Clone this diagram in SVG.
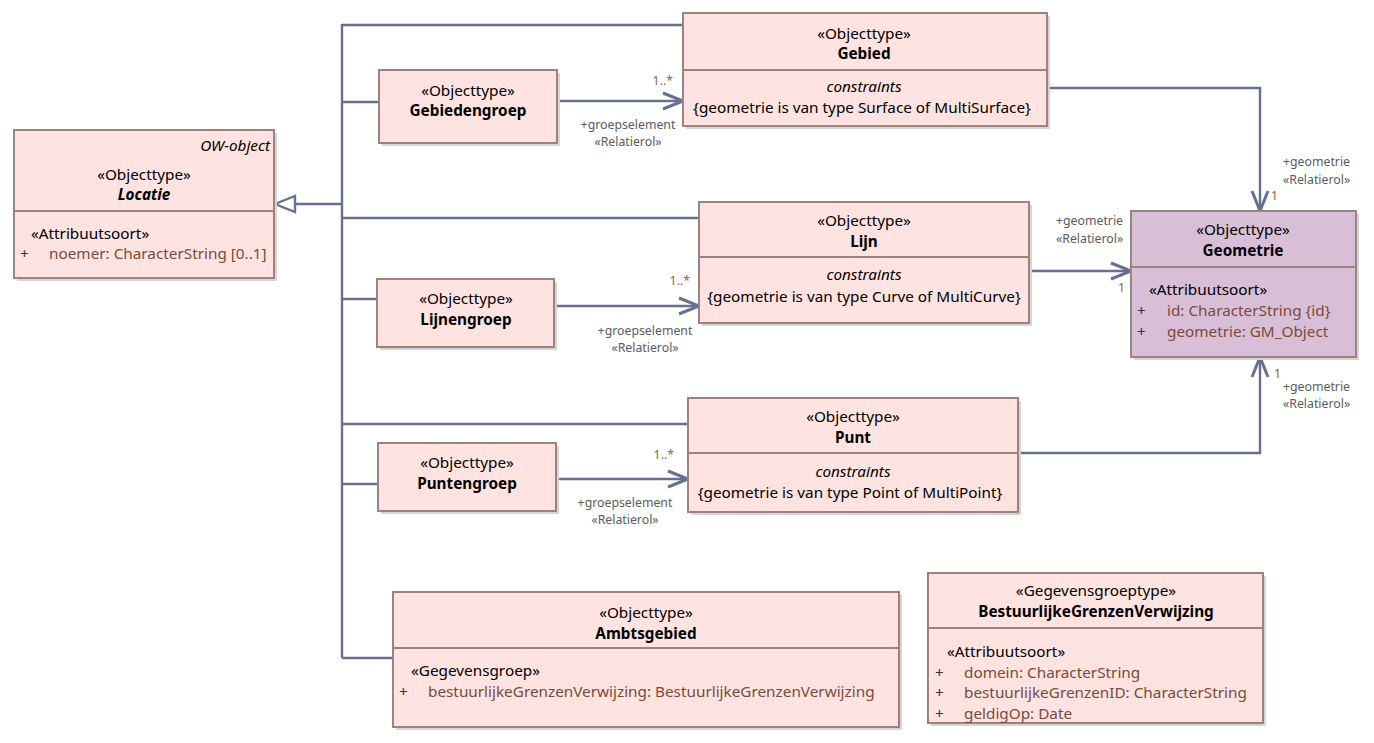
<svg xmlns="http://www.w3.org/2000/svg" width="1374" height="743" viewBox="0 0 1374 743">
<defs>
<style>
text{font-family:"Noto Sans","Open Sans","Liberation Sans",sans-serif;font-size:15.3px;fill:#000}
.c{text-anchor:middle}
.b{font-weight:bold}
.i{font-style:italic}
.r{text-anchor:end}
.a{fill:#7a4a3c}
.p{fill:#333}
.s{font-size:12.3px;fill:#5b5b5b}
.m{font-size:12.3px;fill:#8b6440}
.box{fill:#fee3e0;stroke:#9c8280;stroke-width:2}
.geo{fill:#d8bfd7;stroke:#9c8280;stroke-width:2}
.sh{fill:#d6d6d6}
.dv{stroke:#9c8280;stroke-width:2}
.ln{fill:none;stroke:#687092;stroke-width:2.4}
</style>
<marker id="arr" markerUnits="userSpaceOnUse" markerWidth="24" markerHeight="20" refX="21" refY="10" orient="auto" overflow="visible">
<path d="M1,2 L21,10 L1,18" fill="none" stroke="#687092" stroke-width="3"/>
</marker>
</defs>
<rect width="1374" height="743" fill="#fff"/>

<g id="connectors">
<path class="ln" d="M342,24 V658"/>
<path class="ln" d="M342,25 H683"/>
<path class="ln" d="M342,102 H378"/>
<path class="ln" d="M295,204 H342"/>
<polygon points="275,204 295,196 295,212" fill="#fff" stroke="#687092" stroke-width="2.4"/>
<path class="ln" d="M342,218 H698"/>
<path class="ln" d="M342,299 H377"/>
<path class="ln" d="M342,424 H687"/>
<path class="ln" d="M342,484 H378"/>
<path class="ln" d="M342,658 H393"/>
<path class="ln" d="M557,101 H683" marker-end="url(#arr)"/>
<path class="ln" d="M554,306 H699" marker-end="url(#arr)"/>
<path class="ln" d="M556,479 H688" marker-end="url(#arr)"/>
<path class="ln" d="M1047,88 H1260 V211" marker-end="url(#arr)"/>
<path class="ln" d="M1029,271 H1131" marker-end="url(#arr)"/>
<path class="ln" d="M1018,453 H1260 V357" marker-end="url(#arr)"/>
<text class="m" x="673" y="85" text-anchor="end">1..*</text>
<text class="s c" x="628" y="129">+groepselement</text>
<text class="s c" x="628" y="146">«Relatierol»</text>
<text class="m" x="690" y="285" text-anchor="end">1..*</text>
<text class="s c" x="645" y="335">+groepselement</text>
<text class="s c" x="645" y="352">«Relatierol»</text>
<text class="m" x="674" y="459" text-anchor="end">1..*</text>
<text class="s c" x="625" y="507">+groepselement</text>
<text class="s c" x="625" y="524">«Relatierol»</text>
<text class="s" x="1283" y="166">+geometrie</text>
<text class="s" x="1283" y="184">«Relatierol»</text>
<text class="m" x="1271" y="200">1</text>
<text class="s" x="1056" y="225">+geometrie</text>
<text class="s" x="1056" y="243">«Relatierol»</text>
<text class="m" x="1118" y="292">1</text>
<text class="m" x="1274" y="378">1</text>
<text class="s" x="1283" y="391">+geometrie</text>
<text class="s" x="1283" y="408">«Relatierol»</text>
</g>

<g id="locatie">
<rect class="sh" x="17" y="133" width="260" height="148"/>
<rect class="box" x="14" y="130" width="260" height="148"/>
<line class="dv" x1="14" y1="211" x2="274" y2="211"/>
<text class="i r" x="270" y="151">OW-object</text>
<text class="c" x="144" y="180">«Objecttype»</text>
<text class="c b i" x="144" y="200">Locatie</text>
<text x="31" y="239">«Attribuutsoort»</text>
<text class="p" x="20" y="259">+</text>
<text class="a" x="49" y="259">noemer: CharacterString [0..1]</text>
</g>

<g id="gebiedengroep">
<rect class="sh" x="382" y="73" width="178" height="73"/>
<rect class="box" x="379" y="70" width="178" height="73"/>
<text class="c" x="468" y="96">«Objecttype»</text>
<text class="c b" x="468" y="116">Gebiedengroep</text>
</g>

<g id="gebied">
<rect class="sh" x="686" y="16" width="364" height="113"/>
<rect class="box" x="683" y="13" width="364" height="113"/>
<line class="dv" x1="683" y1="70" x2="1047" y2="70"/>
<text class="c" x="864" y="39">«Objecttype»</text>
<text class="c b" x="864" y="59">Gebied</text>
<text class="c i" x="864" y="92">constraints</text>
<text class="c" x="862" y="113">{geometrie is van type Surface of MultiSurface}</text>
</g>

<g id="lijnengroep">
<rect class="sh" x="380" y="282" width="177" height="68"/>
<rect class="box" x="377" y="279" width="177" height="68"/>
<text class="c" x="466" y="304">«Objecttype»</text>
<text class="c b" x="466" y="325">Lijnengroep</text>
</g>

<g id="lijn">
<rect class="sh" x="702" y="205" width="330" height="121"/>
<rect class="box" x="699" y="202" width="330" height="121"/>
<line class="dv" x1="699" y1="257" x2="1029" y2="257"/>
<text class="c" x="864" y="226">«Objecttype»</text>
<text class="c b" x="864" y="247">Lijn</text>
<text class="c i" x="864" y="280">constraints</text>
<text class="c" x="864" y="302">{geometrie is van type Curve of MultiCurve}</text>
</g>

<g id="puntengroep">
<rect class="sh" x="381" y="446" width="178" height="68"/>
<rect class="box" x="378" y="443" width="178" height="68"/>
<text class="c" x="467" y="468">«Objecttype»</text>
<text class="c b" x="467" y="489">Puntengroep</text>
</g>

<g id="punt">
<rect class="sh" x="691" y="401" width="330" height="114"/>
<rect class="box" x="688" y="398" width="330" height="114"/>
<line class="dv" x1="688" y1="453" x2="1018" y2="453"/>
<text class="c" x="853" y="422">«Objecttype»</text>
<text class="c b" x="853" y="443">Punt</text>
<text class="c i" x="853" y="477">constraints</text>
<text class="c" x="850" y="498">{geometrie is van type Point of MultiPoint}</text>
</g>

<g id="geometrie">
<rect class="sh" x="1134" y="214" width="225" height="146"/>
<rect class="geo" x="1131" y="211" width="225" height="146"/>
<line class="dv" x1="1131" y1="267" x2="1356" y2="267"/>
<text class="c" x="1243" y="235">«Objecttype»</text>
<text class="c b" x="1243" y="256">Geometrie</text>
<text x="1149" y="295">«Attribuutsoort»</text>
<text class="p" x="1137" y="316">+</text>
<text class="a" x="1167" y="316">id: CharacterString {id}</text>
<text class="p" x="1137" y="337">+</text>
<text class="a" x="1167" y="337">geometrie: GM_Object</text>
</g>

<g id="ambtsgebied">
<rect class="sh" x="396" y="595" width="506" height="135"/>
<rect class="box" x="393" y="592" width="506" height="135"/>
<line class="dv" x1="393" y1="648" x2="899" y2="648"/>
<text class="c" x="646" y="618">«Objecttype»</text>
<text class="c b" x="646" y="639">Ambtsgebied</text>
<text x="411" y="676">«Gegevensgroep»</text>
<text class="p" x="399" y="697">+</text>
<text class="a" x="428" y="697">bestuurlijkeGrenzenVerwijzing: BestuurlijkeGrenzenVerwijzing</text>
</g>

<g id="bestuurlijkegrenzenverwijzing">
<rect class="sh" x="931" y="576" width="335" height="150"/>
<rect class="box" x="928" y="573" width="335" height="150"/>
<line class="dv" x1="928" y1="628" x2="1263" y2="628"/>
<text class="c" x="1096" y="596">«Gegevensgroeptype»</text>
<text class="c b" x="1096" y="617">BestuurlijkeGrenzenVerwijzing</text>
<text x="947" y="657">«Attribuutsoort»</text>
<text class="p" x="935" y="678">+</text>
<text class="a" x="964" y="678">domein: CharacterString</text>
<text class="p" x="935" y="698">+</text>
<text class="a" x="964" y="698">bestuurlijkeGrenzenID: CharacterString</text>
<text class="p" x="935" y="719">+</text>
<text class="a" x="964" y="719">geldigOp: Date</text>
</g>
</svg>
